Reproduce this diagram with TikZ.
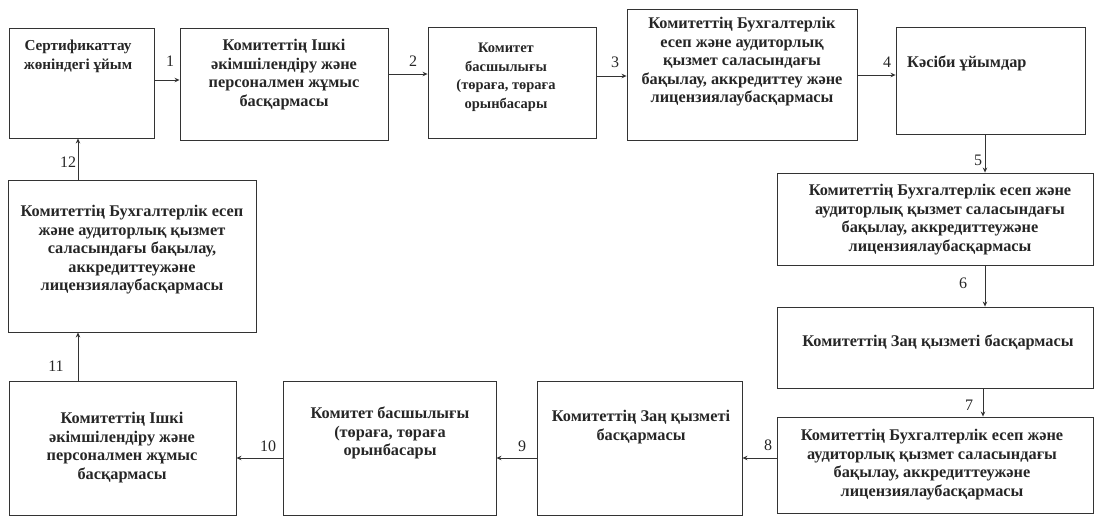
\documentclass[tikz,border=0pt]{standalone}
\usepackage{fontspec}
\setmainfont{Liberation Serif}
\usetikzlibrary{arrows.meta}
\tikzset{
  box/.style={draw=black!80, line width=0.9pt, rectangle, inner sep=0pt},
  txt/.style={font=\bfseries\fontsize{16.3}{18.5}\selectfont, align=center, anchor=north, inner sep=0pt, text=black!85},
  smalltxt/.style={txt, font=\bfseries\fontsize{14.5}{18.5}\selectfont},
  midtxt/.style={txt, font=\bfseries\fontsize{15.2}{18.5}\selectfont},
  num/.style={font=\fontsize{16}{18}\selectfont, inner sep=0pt, text=black!85},
  arr/.style={draw=black!80, line width=0.8pt, -{Stealth[length=5pt,width=4.5pt]}}
}
\begin{document}
\begin{tikzpicture}[x=1pt,y=-1pt]
\useasboundingbox (0,0) rectangle (1099,522);
% boxes
\node[box, minimum width=145pt, minimum height=110pt] (A) at (81.5,83) {};
\node[box, minimum width=208pt, minimum height=112pt] (B) at (284,84) {};
\node[box, minimum width=168pt, minimum height=111pt] (C) at (512,82.5) {};
\node[box, minimum width=230pt, minimum height=131pt] (D) at (742,74.5) {};
\node[box, minimum width=189pt, minimum height=107pt] (E) at (990.5,80.5) {};
\node[box, minimum width=316pt, minimum height=92pt] (F) at (935,219) {};
\node[box, minimum width=316pt, minimum height=81pt] (G) at (935,347.5) {};
\node[box, minimum width=316pt, minimum height=96pt] (H) at (935,465) {};
\node[box, minimum width=205pt, minimum height=134pt] (I) at (639.5,448) {};
\node[box, minimum width=213pt, minimum height=134pt] (J) at (389.5,448) {};
\node[box, minimum width=227pt, minimum height=134pt] (K) at (122.5,448) {};
\node[box, minimum width=248pt, minimum height=152pt] (L) at (132,256) {};
% texts
\node[midtxt] (tA) at (78,40) {Сертификаттау\\жөніндегі ұйым};
\node[txt] (tB) at (284,39) {Комитеттің Ішкі\\әкімшілендіру және\\персоналмен жұмыс\\басқармасы};
\node[smalltxt] (tC) at (506,43) {Комитет\\басшылығы\\(төраға, төраға\\орынбасары};
\node[txt] (tD) at (742,17) {Комитеттің Бухгалтерлік\\есеп және аудиторлық\\қызмет саласындағы\\бақылау, аккредиттеу және\\лицензиялаубасқармасы};
\node[txt, anchor=north west] (tE) at (907,56) {Кәсіби ұйымдар};
\node[txt] (tF) at (940,184) {Комитеттің Бухгалтерлік есеп және\\аудиторлық қызмет саласындағы\\бақылау, аккредиттеужәне\\лицензиялаубасқармасы};
\node[txt] (tG) at (938,335) {Комитеттің Заң қызметі басқармасы};
\node[txt] (tH) at (932,429) {Комитеттің Бухгалтерлік есеп және\\аудиторлық қызмет саласындағы\\бақылау, аккредиттеужәне\\лицензиялаубасқармасы};
\node[txt] (tI) at (641,410) {Комитеттің Заң қызметі\\басқармасы};
\node[txt] (tJ) at (390,407) {Комитет басшылығы\\(төраға, төраға\\орынбасары};
\node[txt] (tK) at (122,412) {Комитеттің Ішкі\\әкімшілендіру және\\персоналмен жұмыс\\басқармасы};
\node[txt] (tL) at (132,205) {Комитеттің Бухгалтерлік есеп\\және аудиторлық қызмет\\саласындағы бақылау,\\аккредиттеужәне\\лицензиялаубасқармасы};
% helper levels
\coordinate (y1) at (0,80);
\coordinate (y2) at (0,74);
\coordinate (y3) at (0,76);
\coordinate (y4) at (0,75);
\coordinate (yb) at (0,458);
\coordinate (xr) at (985,0);
\coordinate (xr7) at (983,0);
\coordinate (xl) at (78,0);
% connectors
\draw[arr] (A.east |- y1) -- (B.west |- y1);
\draw[arr] (B.east |- y2) -- (C.west |- y2);
\draw[arr] (C.east |- y3) -- (D.west |- y3);
\draw[arr] (D.east |- y4) -- (E.west |- y4);
\draw[arr] (xr |- E.south) -- (xr |- F.north);
\draw[arr] (xr |- F.south) -- (xr |- G.north);
\draw[arr] (xr7 |- G.south) -- (xr7 |- H.north);
\draw[arr] (H.west |- yb) -- (I.east |- yb);
\draw[arr] (I.west |- yb) -- (J.east |- yb);
\draw[arr] (J.west |- yb) -- (K.east |- yb);
\draw[arr] (xl |- K.north) -- (xl |- L.south);
\draw[arr] (xl |- L.north) -- (xl |- A.south);
% numbers
\node[num] (n1) at (170,61) {1};
\node[num] (n2) at (413,61) {2};
\node[num] (n3) at (615,62) {3};
\node[num] (n4) at (887,62) {4};
\node[num] (n5) at (978,160) {5};
\node[num] (n6) at (963,283) {6};
\node[num] (n7) at (969,405) {7};
\node[num] (n8) at (768,445) {8};
\node[num] (n9) at (522,446) {9};
\node[num] (n10) at (268,446) {10};
\node[num] (n11) at (56,366) {11};
\node[num] (n12) at (68,162) {12};
\end{tikzpicture}
\end{document}
